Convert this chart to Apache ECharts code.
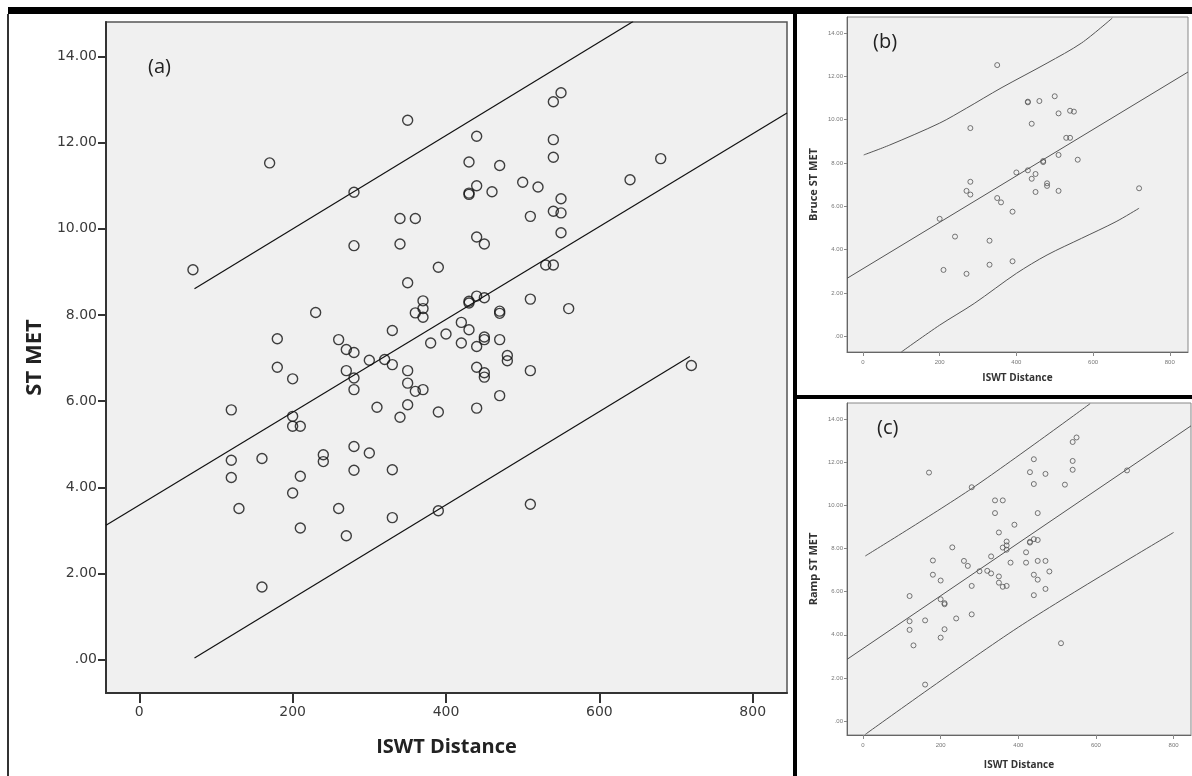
<!DOCTYPE html>
<html>
<head>
<meta charset="utf-8">
<title>ST MET vs ISWT Distance</title>
<script src="https://cdn.jsdelivr.net/npm/echarts@6.0.0/dist/echarts.min.js"></script>
<style>
html, body { margin: 0; padding: 0; background: #fff; }
#main { width: 1192px; height: 776px; }
</style>
</head>
<body>
<div id="main"></div>
<script>
// (a) all tests
var aDist = [70, 170, 280, 280, 340, 360, 340, 230, 180, 180, 200, 260, 270, 280, 300, 320, 330, 330, 270, 280,
	280, 120, 200, 200, 210, 310, 340, 120, 120, 160, 240, 240, 280, 300, 280, 330, 210, 200, 130, 260,
	330, 210, 270, 160, 350, 440, 540, 550, 540, 540, 430, 470, 680, 640, 440, 430, 430, 460, 500, 520,
	550, 540, 550, 510, 550, 440, 450, 390, 530, 540, 350, 370, 370, 370, 360, 430, 430, 440, 450, 510,
	560, 470, 470, 380, 400, 420, 430, 420, 440, 450, 450, 470, 480, 480, 440, 450, 450, 510, 350, 350,
	360, 370, 470, 350, 390, 440, 390, 510, 720];
var aMet = [9.05, 11.53, 10.85, 9.61, 10.24, 10.24, 9.65, 8.06, 7.45, 6.79, 6.52, 7.43, 7.20, 7.13, 6.95, 6.97, 6.85, 7.64, 6.71, 6.54,
	6.27, 5.80, 5.65, 5.42, 5.42, 5.86, 5.63, 4.63, 4.23, 4.67, 4.76, 4.60, 4.95, 4.80, 4.40, 4.41, 4.26, 3.87, 3.51, 3.51,
	3.30, 3.06, 2.88, 1.69, 12.52, 12.15, 12.95, 13.16, 12.07, 11.66, 11.55, 11.47, 11.63, 11.14, 11.00, 10.83, 10.80, 10.86, 11.08, 10.97,
	10.70, 10.41, 10.37, 10.29, 9.91, 9.81, 9.65, 9.11, 9.16, 9.16, 8.75, 8.33, 8.15, 7.95, 8.05, 8.28, 8.32, 8.44, 8.40, 8.37,
	8.15, 8.09, 8.04, 7.35, 7.56, 7.83, 7.66, 7.35, 7.27, 7.43, 7.49, 7.43, 7.06, 6.94, 6.79, 6.66, 6.56, 6.71, 6.71, 6.42,
	6.23, 6.27, 6.13, 5.92, 5.75, 5.84, 3.46, 3.61, 6.83];
// (a) fit line and interval lines
var aFitX = [-43.4, 844.7];
var aFitY = [3.12, 12.69];
var aUpX = [72, 644];
var aUpY = [8.61, 14.81];
var aLoX = [72, 718];
var aLoY = [0.04, 7.04];

// (b) Bruce
var bDist = [350, 430, 430, 460, 500, 510, 540, 550, 440, 280, 530, 540, 470, 470, 510, 560, 400, 430, 450, 440,
	480, 480, 450, 510, 280, 270, 280, 350, 360, 390, 720, 200, 240, 330, 210, 270, 330, 390];
var bMet = [12.52, 10.83, 10.80, 10.86, 11.08, 10.29, 10.41, 10.37, 9.81, 9.61, 9.16, 9.16, 8.09, 8.04, 8.37, 8.15, 7.56, 7.66, 7.49, 7.27,
	7.06, 6.94, 6.66, 6.71, 7.13, 6.71, 6.54, 6.38, 6.18, 5.75, 6.83, 5.42, 4.60, 4.41, 3.06, 2.88, 3.30, 3.46];
var bFitX = [-41.6, 847.5];
var bFitY = [2.67, 12.2];
var bUpX = [2, 70, 200, 270, 360, 480, 570, 650];
var bUpY = [8.37, 8.83, 9.84, 10.53, 11.46, 12.61, 13.54, 14.69];
var bLoX = [100, 200, 290, 400, 480, 570, 660, 720];
var bLoY = [-0.73, 0.51, 1.51, 2.90, 3.75, 4.52, 5.29, 5.91];

// (c) Ramp
var cDist = [170, 280, 340, 360, 340, 390, 350, 370, 370, 370, 360, 230, 380, 330, 180, 180, 200, 260, 270, 300,
	320, 330, 280, 350, 350, 360, 370, 120, 200, 210, 210, 120, 120, 160, 130, 210, 200, 240, 280, 160,
	440, 430, 470, 440, 520, 540, 550, 540, 540, 680, 450, 430, 430, 440, 450, 420, 420, 450, 470, 480,
	440, 450, 470, 440, 510];
var cMet = [11.53, 10.85, 10.24, 10.24, 9.65, 9.11, 8.75, 8.33, 8.15, 7.95, 8.05, 8.06, 7.35, 7.64, 7.45, 6.79, 6.52, 7.43, 7.20, 6.95,
	6.97, 6.85, 6.27, 6.71, 6.42, 6.23, 6.27, 5.80, 5.65, 5.42, 5.47, 4.63, 4.23, 4.67, 3.51, 4.26, 3.87, 4.76, 4.95, 1.69,
	12.15, 11.55, 11.47, 11.00, 10.97, 12.95, 13.16, 12.07, 11.66, 11.63, 9.65, 8.28, 8.32, 8.44, 8.40, 7.83, 7.35, 7.43, 7.43, 6.94,
	6.79, 6.56, 6.13, 5.84, 3.61];
var cFitX = [-41.2, 844.8];
var cFitY = [2.86, 13.70];
var cUpX = [6, 280, 585];
var cUpY = [7.66, 10.79, 14.73];
var cLoX = [6, 400, 800];
var cLoY = [-0.62, 4.35, 8.75];

// axis ticks
var xTicks = [0, 200, 400, 600, 800];
var yTicks = [0, 2, 4, 6, 8, 10, 12, 14];

function pairs(xs, ys) {
	var out = [];
	for (var i = 0; i < xs.length; i++) {
		out.push([xs[i], ys[i]]);
	}
	return out;
}

function metLabel(v) {
	return v === 0 ? '.00' : v.toFixed(2);
}

// small panel axes (b) and (c)
function smallX(idx, min, max, gap) {
	return {
		gridIndex : idx, type : 'value', min : min, max : max,
		axisLine : { onZero : false, lineStyle : { color : '#666', width : 1 } },
		axisTick : { customValues : xTicks, length : 4, lineStyle : { color : '#888' } },
		axisLabel : { customValues : xTicks, margin : 7, fontSize : 6, color : '#777', fontFamily : 'Liberation Sans' },
		splitLine : { show : false },
		name : 'ISWT Distance', nameLocation : 'middle', nameGap : gap,
		nameTextStyle : { fontSize : 10, fontWeight : 'bold', color : '#333', fontFamily : 'Open Sans' }
	};
}
function smallY(idx, min, max, name) {
	return {
		gridIndex : idx, type : 'value', min : min, max : max,
		axisLine : { onZero : false, lineStyle : { color : '#666', width : 1 } },
		axisTick : { customValues : yTicks, length : 3, lineStyle : { color : '#888' } },
		axisLabel : { customValues : yTicks, margin : 4, fontSize : 6, color : '#777', fontFamily : 'Liberation Sans', formatter : metLabel },
		splitLine : { show : false },
		name : name, nameLocation : 'middle', nameGap : 28, nameRotate : 90,
		nameTextStyle : { fontSize : 11, fontWeight : 'bold', color : '#333', fontFamily : 'Open Sans' }
	};
}

function fitLine(idx, xs, ys, color, width, smooth) {
	return {
		type : 'line', xAxisIndex : idx, yAxisIndex : idx,
		data : pairs(xs, ys), symbol : 'none', smooth : smooth ? 0.3 : false,
		silent : true, clip : true,
		lineStyle : { color : color, width : width }
	};
}

function dots(idx, xs, ys, size, color, width) {
	return {
		type : 'scatter', xAxisIndex : idx, yAxisIndex : idx,
		data : pairs(xs, ys), symbol : 'circle', symbolSize : size,
		itemStyle : { color : 'rgba(0,0,0,0)', borderColor : color, borderWidth : width }
	};
}

var chart = echarts.init(document.getElementById('main'));
var option = {
	animation : false,
	backgroundColor : '#fff',
	title : [
		{ text : '(a)', left : 148, top : 57, padding : 0, textStyle : { fontSize : 20, fontWeight : 'normal', color : '#222', fontFamily : 'Open Sans' } },
		{ text : '(b)', left : 873, top : 32, padding : 0, textStyle : { fontSize : 20, fontWeight : 'normal', color : '#222', fontFamily : 'Open Sans' } },
		{ text : '(c)', left : 877, top : 418, padding : 0, textStyle : { fontSize : 20, fontWeight : 'normal', color : '#222', fontFamily : 'Open Sans' } }
	],
	grid : [
		{ left : 106, top : 22, width : 681, height : 671, show : true, backgroundColor : '#f0f0f0', borderColor : '#555', borderWidth : 1.5 },
		{ left : 847, top : 17, width : 341, height : 335, show : true, backgroundColor : '#f0f0f0', borderColor : '#888', borderWidth : 1 },
		{ left : 847, top : 403, width : 344, height : 332, show : true, backgroundColor : '#f0f0f0', borderColor : '#888', borderWidth : 1 }
	],
	xAxis : [
		{
			gridIndex : 0, type : 'value', min : -43.4, max : 844.7,
			axisLine : { onZero : false, lineStyle : { color : '#333', width : 2 } },
			axisTick : { customValues : xTicks, length : 10, lineStyle : { color : '#333', width : 2 } },
			axisLabel : { customValues : xTicks, margin : 12, fontSize : 14, color : '#3a3a3a', fontFamily : 'DejaVu Sans' },
			splitLine : { show : false },
			name : 'ISWT Distance', nameLocation : 'middle', nameGap : 44,
			nameTextStyle : { fontSize : 20, fontWeight : 'bold', color : '#222', fontFamily : 'Open Sans' }
		},
		smallX(1, -41.6, 847.5, 21),
		smallX(2, -41.2, 844.8, 25)
	],
	yAxis : [
		{
			gridIndex : 0, type : 'value', min : -0.77, max : 14.8,
			axisLine : { onZero : false, lineStyle : { color : '#333', width : 2 } },
			axisTick : { customValues : yTicks, length : 8, lineStyle : { color : '#333', width : 2 } },
			axisLabel : { customValues : yTicks, margin : 9, fontSize : 14, color : '#3a3a3a', fontFamily : 'DejaVu Sans', formatter : metLabel },
			splitLine : { show : false },
			name : 'ST MET', nameLocation : 'middle', nameGap : 59, nameRotate : 90,
			nameTextStyle : { fontSize : 22, fontWeight : 'bold', color : '#222', fontFamily : 'Open Sans' }
		},
		smallY(1, -0.73, 14.74, 'Bruce ST MET'),
		smallY(2, -0.65, 14.76, 'Ramp ST MET')
	],
	series : [
		fitLine(0, aFitX, aFitY, '#111', 1.2, false),
		fitLine(0, aUpX, aUpY, '#111', 1.2, false),
		fitLine(0, aLoX, aLoY, '#111', 1.2, false),
		dots(0, aDist, aMet, 10, '#111', 1.4),
		fitLine(1, bFitX, bFitY, '#555', 1, false),
		fitLine(1, bUpX, bUpY, '#555', 1, true),
		fitLine(1, bLoX, bLoY, '#555', 1, true),
		dots(1, bDist, bMet, 5, '#555', 1),
		fitLine(2, cFitX, cFitY, '#555', 1, false),
		fitLine(2, cUpX, cUpY, '#555', 1, true),
		fitLine(2, cLoX, cLoY, '#555', 1, true),
		dots(2, cDist, cMet, 5, '#555', 1)
	],
	// frame of the figure
	graphic : [
		{ type : 'rect', shape : { x : 8, y : 7, width : 1184, height : 7 }, style : { fill : '#000' } },
		{ type : 'rect', shape : { x : 7, y : 14, width : 2, height : 762 }, style : { fill : '#333' } },
		{ type : 'rect', shape : { x : 793, y : 14, width : 4, height : 762 }, style : { fill : '#000' } },
		{ type : 'rect', shape : { x : 797, y : 395, width : 395, height : 4 }, style : { fill : '#000' } }
	]
};
chart.setOption(option);
</script>
</body>
</html>
